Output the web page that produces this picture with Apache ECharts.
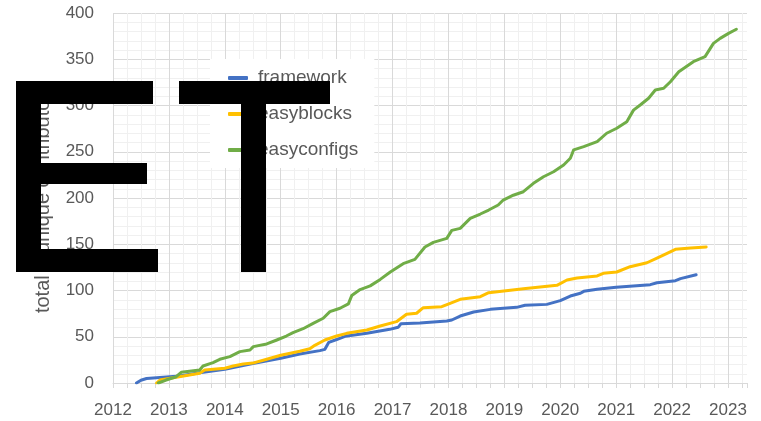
<!DOCTYPE html>
<html>
<head>
<meta charset="utf-8">
<script src="https://cdn.jsdelivr.net/npm/echarts@6/dist/echarts.min.js"></script>
<style>
  html, body { margin: 0; padding: 0; background: #fff; }
  #chart { width: 761px; height: 421px; }
</style>
</head>
<body>
<div id="chart"></div>
<script>
// contributors over time (decimal year, cumulative count)
var frameworkYears = [2012.42, 2012.50, 2012.60, 2012.78, 2013.19, 2013.55, 2014.00, 2014.50, 2015.00, 2015.34, 2015.70, 2015.79, 2015.86, 2016.00, 2016.15, 2016.54, 2016.95, 2017.10, 2017.15, 2017.49, 2017.97, 2018.06, 2018.21, 2018.45, 2018.75, 2019.22, 2019.37, 2019.76, 2020.00, 2020.18, 2020.36, 2020.42, 2020.66, 2021.00, 2021.61, 2021.73, 2022.06, 2022.15, 2022.43];
var frameworkTotals = [0, 3, 4.8, 5.8, 7.6, 11, 14.8, 21, 26.7, 31.4, 35, 36.4, 44, 47, 50.5, 53.7, 58, 60.2, 64, 64.8, 67, 68.1, 72.4, 76.8, 79.6, 81.8, 84, 85, 89, 94, 97, 99.1, 101.3, 103.5, 106.3, 108.4, 110.6, 112.8, 117];

var easyblocksYears = [2012.78, 2012.84, 2013.13, 2013.55, 2013.64, 2014.00, 2014.15, 2014.33, 2014.50, 2014.75, 2015.00, 2015.34, 2015.52, 2015.61, 2015.79, 2016.00, 2016.18, 2016.54, 2016.78, 2017.07, 2017.25, 2017.43, 2017.55, 2017.88, 2018.03, 2018.21, 2018.57, 2018.72, 2019.34, 2019.94, 2020.12, 2020.30, 2020.66, 2020.77, 2021.01, 2021.25, 2021.55, 2021.73, 2021.91, 2022.06, 2022.33, 2022.61];
var easyblocksTotals = [0, 3.2, 6.2, 10.5, 14, 15.9, 18.4, 20.5, 21.5, 25.6, 30, 34.3, 37.1, 40.7, 46.5, 50.8, 53.7, 57.3, 61.6, 66.3, 74.3, 75.4, 81.4, 82.5, 86.2, 90.5, 93.3, 97.6, 102, 105.6, 111.4, 113.5, 115.7, 118.6, 120, 125.7, 130, 135.1, 140.2, 144.5, 146, 147];

var easyconfigsYears = [2012.81, 2012.95, 2013.13, 2013.22, 2013.55, 2013.61, 2013.79, 2013.91, 2014.09, 2014.27, 2014.45, 2014.51, 2014.75, 2014.93, 2015.10, 2015.22, 2015.40, 2015.58, 2015.76, 2015.88, 2016.06, 2016.21, 2016.27, 2016.42, 2016.60, 2016.78, 2016.96, 2017.19, 2017.40, 2017.58, 2017.73, 2017.97, 2018.06, 2018.21, 2018.39, 2018.57, 2018.72, 2018.89, 2018.98, 2019.16, 2019.34, 2019.52, 2019.70, 2019.88, 2020.06, 2020.18, 2020.24, 2020.42, 2020.66, 2020.83, 2021.01, 2021.19, 2021.31, 2021.43, 2021.58, 2021.70, 2021.85, 2021.97, 2022.12, 2022.38, 2022.59, 2022.74, 2022.86, 2023.01, 2023.15];
var easyconfigsTotals = [0, 3.2, 6.8, 11.6, 14, 18.4, 22, 25.6, 28.5, 33.9, 35.7, 39.3, 42.2, 46.5, 50.8, 54.4, 58.7, 64.5, 70, 77.1, 80.8, 85.5, 94.5, 101, 105, 112, 120, 129, 133.7, 147, 152, 156.4, 165, 167.2, 178, 182.7, 187, 192.4, 197.8, 203, 206.8, 215.9, 223, 228.4, 235.7, 243, 252, 255.5, 260.9, 270, 275.4, 282.5, 295, 300.5, 307.8, 316.8, 318.6, 325.7, 336.5, 347.4, 352.8, 367.2, 372.6, 378, 382.4];

var seriesNames = ['framework', 'easyblocks', 'easyconfigs'];
var seriesColors = ['#4472C4', '#FFC000', '#70AD47'];
var yLabelStep = 50;

function zip(xs, ys) {
  var out = [];
  for (var i = 0; i < xs.length; i++) out.push([xs[i], ys[i]]);
  return out;
}

var allData = [
  zip(frameworkYears, frameworkTotals),
  zip(easyblocksYears, easyblocksTotals),
  zip(easyconfigsYears, easyconfigsTotals)
];

var font = 'Liberation Sans';
var txt = '#595959';
var major = '#d9d9d9', minor = '#f0f0f0';

var myChart = echarts.init(document.getElementById('chart'));

var option = {
  animation: false,
  textStyle: { fontFamily: font },
  grid: { left: 113, right: 14, top: 13, bottom: 38, containLabel: false },
  legend: {
    orient: 'vertical',
    left: 210,
    top: 59,
    padding: [9, 16, 8, 18],
    backgroundColor: '#fff',
    itemWidth: 20,
    itemHeight: 4,
    itemGap: 16,
    icon: 'roundRect',
    textStyle: { color: txt, fontSize: 19, fontFamily: font, lineHeight: 20, padding: [0, 0, 0, 5] },
    data: seriesNames
  },
  xAxis: {
    type: 'value',
    min: 2012,
    max: 2023.34,
    interval: 0.25,
    axisLine: { show: true, lineStyle: { color: major, width: 1 } },
    axisTick: { show: true, length: 5, lineStyle: { color: major } },
    axisLabel: {
      color: txt, fontSize: 17, fontFamily: font, margin: 19,
      formatter: function (v) { return Math.abs(v - Math.round(v)) < 1e-6 ? String(Math.round(v)) : ''; }
    },
    splitLine: {
      show: true,
      showMaxLine: false,
      lineStyle: { color: [major, minor, minor, minor], width: 1 }
    }
  },
  yAxis: {
    type: 'value',
    min: 0,
    max: 400,
    interval: 10,
    name: 'total # unique contributors',
    nameLocation: 'middle',
    nameGap: 60,
    nameTextStyle: { color: txt, fontSize: 20, fontFamily: font },
    axisLine: { show: false },
    axisTick: { show: false },
    axisLabel: {
      color: txt, fontSize: 17, fontFamily: font, margin: 19,
      formatter: function (v) { return v % yLabelStep === 0 ? String(v) : ''; }
    },
    splitLine: {
      show: true,
      lineStyle: { color: [major, minor, minor, minor, minor], width: 1 }
    }
  },
  series: seriesNames.map(function (name, i) {
    return {
      name: name,
      type: 'line',
      data: allData[i],
      showSymbol: false,
      symbol: 'none',
      color: seriesColors[i],
      lineStyle: { width: 3, color: seriesColors[i], cap: 'round', join: 'round' },
      z: 3 + i
    };
  }),
  // black block letters lying over the chart
  graphic: [
    { type: 'rect', z: 100, shape: { x: 16, y: 81, width: 25, height: 191 }, style: { fill: '#000' } },
    { type: 'rect', z: 100, shape: { x: 16, y: 81, width: 137, height: 23 }, style: { fill: '#000' } },
    { type: 'rect', z: 100, shape: { x: 16, y: 163, width: 131, height: 21 }, style: { fill: '#000' } },
    { type: 'rect', z: 100, shape: { x: 16, y: 249, width: 142, height: 23 }, style: { fill: '#000' } },
    { type: 'rect', z: 100, shape: { x: 179, y: 81, width: 151, height: 23 }, style: { fill: '#000' } },
    { type: 'rect', z: 100, shape: { x: 241, y: 81, width: 25, height: 191 }, style: { fill: '#000' } }
  ]
};

myChart.setOption(option);
</script>
</body>
</html>
